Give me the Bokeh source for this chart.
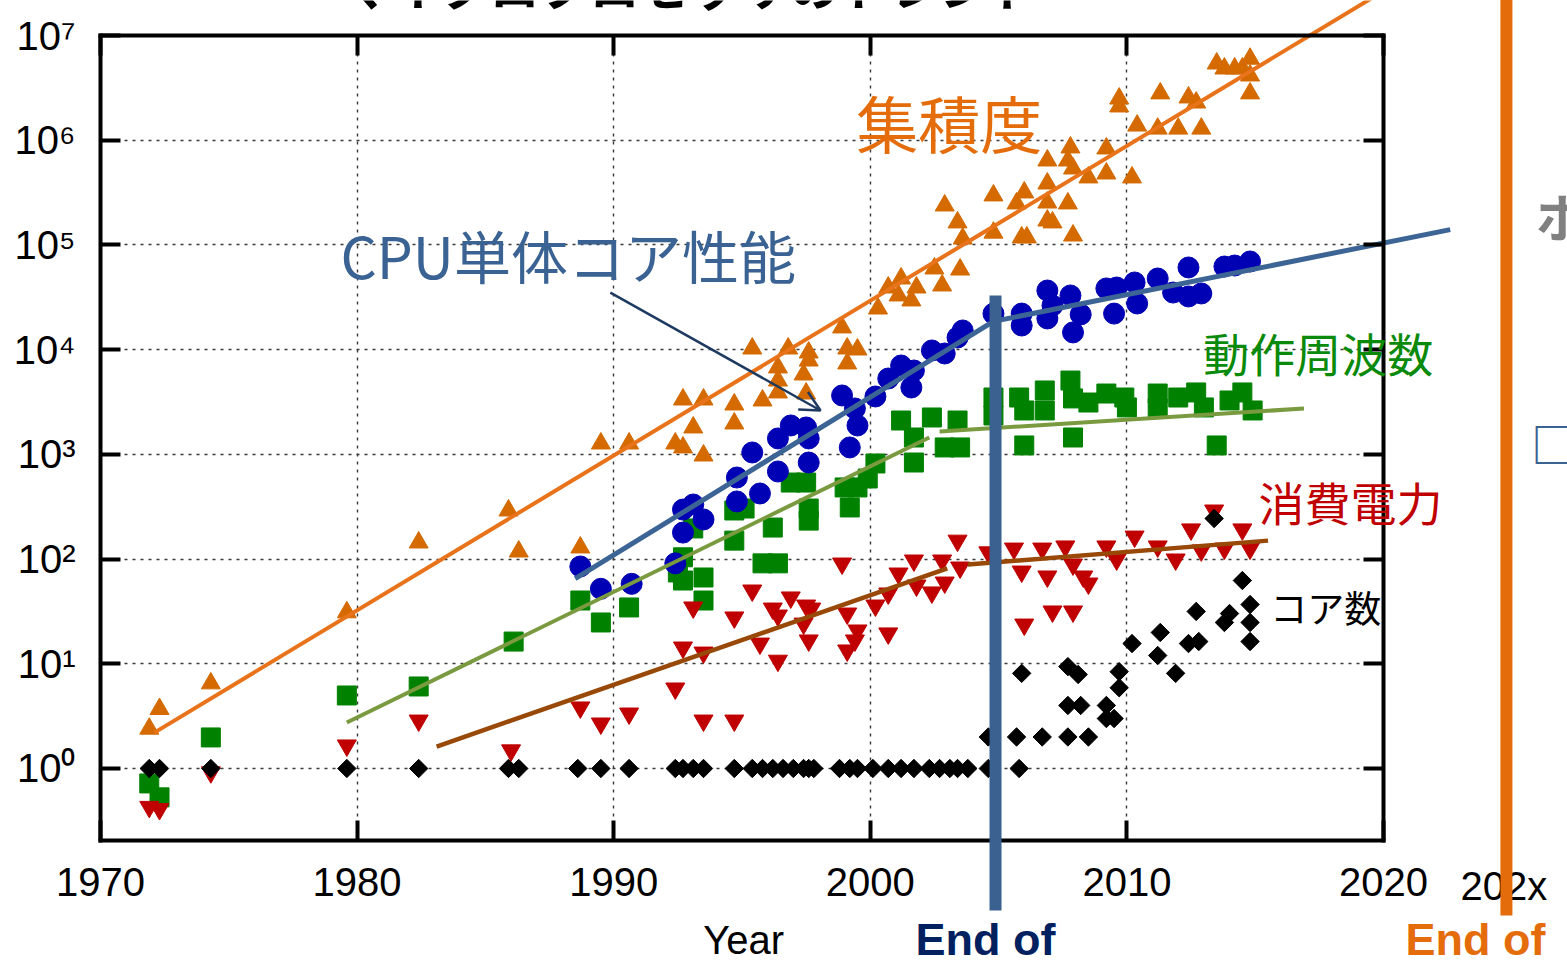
import numpy as np
from bokeh.plotting import figure
from bokeh.models import (FixedTicker, LinearAxis, LogAxis, Label, Arrow, OpenHead, Range1d, Grid)
from bokeh.embed import file_html
from bokeh.resources import INLINE

# ---------------- data ----------------
x_ticks = [1970, 1980, 1990, 2000, 2010, 2020]
y_ticks = [1, 10, 100, 1000, 10000, 100000, 1000000, 10000000]
y_tick_labels = ["10⁰", "10¹", "10²", "10³", "10⁴", "10⁵", "10⁶", "10⁷"]
x_lim = (1970, 2020)
y_lim = (0.2053, 1e7)

# transistors (thousands) - 集積度
tr_year = [1971.9, 1972.3, 1974.3, 1979.6, 1982.4, 1985.9, 1986.3, 1988.7, 1989.5, 1990.6,
           1992.4, 1992.7, 1992.7, 1993.1, 1993.5, 1993.5, 1994.7, 1994.7, 1995.4, 1995.8,
           1996.4, 1996.4, 1996.4, 1996.8, 1997.6, 1997.6, 1997.4, 1997.5, 1998.9, 1999.1,
           1999.5, 1999.1, 2000.3, 2000.7, 2001.1, 2001.2, 2001.6, 2001.8, 2002.5, 2002.8,
           2003.5, 2002.9, 2003.4, 2003.6, 2004.8, 2004.8, 2005.7, 2006.0, 2005.9, 2006.1,
           2006.9, 2006.9, 2006.9, 2007.1, 2007.7, 2007.9, 2006.9, 2007.8, 2007.7, 2007.9,
           2008.5, 2009.2, 2009.2, 2010.2, 2009.7, 2009.7, 2010.4, 2011.2, 2011.3, 2012.0,
           2012.4, 2012.7, 2012.9, 2013.5, 2013.8, 2014.2, 2014.5, 2014.8, 2014.8, 2014.8]
tr_val = [2.4, 3.7, 6.5, 31, 144, 291, 118, 129, 1270, 1270,
          1270, 1164, 3340, 1806, 3340, 975, 2994, 1972, 10250, 3270,
          6760, 5070, 3900, 10250, 9390, 7870, 5790, 3810, 16290, 10250,
          10030, 7380, 24700, 39200, 32900, 47800, 29500, 39200, 59600, 41000,
          58200, 238000, 164000, 115000, 297000, 131000, 249000, 317000, 118000, 118000,
          386000, 254000, 171000, 164000, 249000, 123000, 640000, 853000, 640000, 537000,
          441000, 834000, 481000, 441000, 2.5e6, 2.1e6, 1.38e6, 1.29e6, 2.8e6, 1.29e6,
          2.56e6, 2.29e6, 1.29e6, 5.4e6, 4.84e6, 4.84e6, 4.84e6, 6.0e6, 4.15e6, 2.8e6]

# single-thread performance - CPU単体コア性能
cpu_year = [1988.7, 1989.5, 1990.7, 1992.4, 1992.7, 1993.1, 1993.5, 1992.7, 1994.8, 1994.8,
            1995.4, 1995.7, 1996.4, 1996.4, 1996.9, 1997.5, 1997.6, 1997.6, 1998.9, 1999.4,
            1999.5, 1999.2, 2000.2, 2000.7, 2001.2, 2001.6, 2001.7, 2002.4, 2002.9, 2003.4,
            2003.6, 2004.8, 2005.9, 2005.9, 2006.9, 2006.9, 2007.1, 2007.8, 2008.2, 2007.9,
            2009.2, 2009.6, 2009.5, 2010.3, 2010.4, 2011.2, 2011.8, 2012.4, 2012.4, 2012.9,
            2013.8, 2014.2, 2014.8]
cpu_val = [85, 52, 58, 91, 297, 332, 239, 179, 601, 355,
           1042, 423, 1419, 686, 1888, 1806, 1419, 836, 3650, 2742,
           1888, 1164, 3570, 5300, 7060, 4350, 6320, 9820, 9190, 13060,
           15240, 22100, 22100, 17000, 36700, 19850, 26400, 32900, 21700, 14600,
           38400, 39200, 22100, 43800, 27600, 47800, 35100, 32200, 60900, 34400,
           62200, 63600, 69500]

# frequency (MHz) - 動作周波数
fq_year = [1971.9, 1972.3, 1974.3, 1979.6, 1982.4, 1986.1, 1988.7, 1989.5, 1990.6, 1992.5,
           1992.7, 1993.5, 1992.7, 1993.1, 1993.5, 1994.7, 1994.7, 1995.1, 1995.8, 1996.4,
           1996.2, 1996.9, 1997.5, 1997.6, 1997.6, 1999.0, 1999.5, 1999.2, 1999.9, 2000.2,
           2001.2, 2001.7, 2001.7, 2002.4, 2002.9, 2003.4, 2003.5, 2004.8, 2004.8, 2005.8,
           2006.0, 2006.0, 2006.8, 2006.8, 2007.8, 2007.9, 2007.9, 2008.5, 2009.2, 2009.9,
           2010.0, 2011.2, 2011.2, 2012.0, 2012.7, 2013.0, 2013.5, 2014.0, 2014.5, 2014.9]
fq_val = [0.72, 0.53, 1.98, 4.98, 6.07, 16.3, 40.2, 24.8, 34.5, 74.5,
          62.4, 66.7, 104, 196, 40.2, 291, 150, 304, 91, 91,
          200, 538, 538, 304, 233, 483, 483, 311, 588, 818,
          2105, 1449, 836, 2250, 1164, 2105, 1164, 3490, 2350, 3490,
          2624, 1216, 4074, 2624, 5070, 3420, 1449, 3126, 3810, 3490,
          2805, 3810, 2742, 3490, 3900, 2805, 1216, 3270, 3900, 2624]

# typical power (W) - 消費電力
pw_year = [1971.9, 1972.3, 1974.3, 1979.6, 1982.4, 1986.0, 1988.7, 1989.5, 1990.6, 1992.4,
           1992.7, 1993.5, 1993.5, 1994.7, 1993.1, 1994.7, 1995.4, 1995.7, 1996.2, 1996.4,
           1996.4, 1996.9, 1997.5, 1997.7, 1997.4, 1997.6, 1998.9, 1999.1, 1999.5, 1999.4,
           1999.1, 2000.2, 2000.7, 2000.7, 2001.1, 2001.7, 2001.8, 2002.4, 2002.8, 2002.9,
           2003.4, 2003.5, 2004.6, 2005.6, 2005.9, 2006.0, 2006.7, 2006.9, 2007.1, 2007.6,
           2007.9, 2007.9, 2008.3, 2008.5, 2009.2, 2009.6, 2010.3, 2011.2, 2011.9, 2012.5,
           2012.9, 2013.4, 2013.8, 2014.5, 2014.8]
pw_val = [0.43, 0.41, 0.92, 1.66, 2.87, 1.49, 3.83, 2.69, 3.35, 5.81,
          14.3, 12.8, 2.87, 2.87, 34.5, 27.7, 50.1, 15.6, 33.7, 28.9,
          10.7, 43, 36, 33.7, 24.2, 16.7, 90.7, 30.2, 20.8, 16.7,
          13.4, 36, 19.5, 46.9, 72.8, 96.9, 55.9, 48, 96.9, 59.7,
          150, 83.1, 116, 126, 76, 23.7, 126, 68.2, 31.6, 132,
          88.8, 31.6, 68.2, 58.4, 132, 99.1, 164, 132, 99.1, 192,
          121, 291, 126, 192, 126]

# number of logical cores - コア数
co_year = [1971.9, 1972.3, 1974.3, 1979.6, 1982.4, 1985.9, 1986.3, 1988.6, 1989.5, 1990.6,
           1992.4, 1992.7, 1993.1, 1993.5, 1994.7, 1995.4, 1995.8, 1996.2, 1996.6, 1997.0,
           1997.4, 1997.6, 1997.8, 1998.8, 1999.2, 1999.5, 2000.1, 2000.7, 2001.2, 2001.7,
           2002.3, 2002.7, 2003.1, 2003.4, 2003.8, 2004.6, 2005.8,
           2004.6, 2005.7, 2006.7, 2007.7, 2008.5,
           2007.7, 2008.2, 2009.2,
           2009.2, 2009.5,
           2005.9, 2007.7, 2008.1, 2009.7, 2009.7,
           2010.2, 2011.2, 2011.3, 2011.9, 2012.4, 2012.7, 2012.8, 2013.8, 2014.0, 2014.8,
           2014.8, 2014.8, 2014.5, 2013.4]
co_val = [1, 1, 1, 1, 1, 1, 1, 1, 1, 1,
          1, 1, 1, 1, 1, 1, 1, 1, 1, 1,
          1, 1, 1, 1, 1, 1, 1, 1, 1, 1,
          1, 1, 1, 1, 1, 1, 1,
          2, 2, 2, 2, 2,
          4, 4, 4,
          3, 3,
          8.1, 9.4, 7.9, 8.4, 5.9,
          15.6, 12, 19.9, 8.1, 15.6, 31.6, 16.3, 24.8, 30.2, 36.8,
          24.8, 16.3, 62.4, 244]

# trend lines
tr_fit_year = [1972.1, 2019.7]
tr_fit_val = [2.2, 2.4e7]
cpu_fit_year = [1988.5, 2004.8, 2022.6]
cpu_fit_val = [65, 18600, 140000]
fq_fit1_year = [1979.6, 2002.3]
fq_fit1_val = [2.75, 1449]
fq_fit2_year = [2002.7, 2016.9]
fq_fit2_val = [1653, 2742]
pw_fit1_year = [1983.1, 2003.0]
pw_fit1_val = [1.62, 81.3]
pw_fit2_year = [2003.8, 2015.5]
pw_fit2_val = [88.8, 150]

# marker lines of the slide ("End of ..." years)
end_year = [2004.88, 2024.79]

# ---------------- figure ----------------
TICK_FONT = "Liberation Sans"
JP_FONT = "Noto Sans CJK JP"

# the frame fills the whole canvas; the axes box is drawn with fixed-location axes
p = figure(width=1567, height=964,
           x_range=Range1d(1966.1029, 2027.1707), y_range=Range1d(0.013431, 2.1593e7),
           y_axis_type="log", output_backend="svg", toolbar_location=None,
           min_border=0, min_border_left=0, min_border_right=0, min_border_top=0, min_border_bottom=0)
p.title.visible = False
p.background_fill_color = "white"
p.border_fill_color = "white"
p.outline_line_color = None

bottom_ax = p.below[0]
left_ax = p.left[0]
top_ax = LinearAxis()
right_ax = LogAxis()
p.add_layout(top_ax, "above")
p.add_layout(right_ax, "right")

bottom_ax.fixed_location = y_lim[0]
top_ax.fixed_location = y_lim[1]
left_ax.fixed_location = x_lim[0]
right_ax.fixed_location = x_lim[1]
for ax in (bottom_ax, top_ax):
    ax.ticker = FixedTicker(ticks=x_ticks)
    ax.bounds = x_lim
for ax in (left_ax, right_ax):
    ax.ticker = FixedTicker(ticks=y_ticks)
    ax.bounds = y_lim
left_ax.major_label_overrides = {t: s for t, s in zip(y_ticks, y_tick_labels)}

for ax in [bottom_ax, left_ax, top_ax, right_ax]:
    ax.axis_line_width = 4
    ax.axis_line_color = "black"
    ax.axis_line_cap = "square"
    ax.major_tick_line_width = 4
    ax.major_tick_line_color = "black"
    ax.major_tick_in = 20
    ax.major_tick_out = 0
    ax.minor_tick_line_color = None
    ax.major_label_text_font = TICK_FONT
    ax.major_label_text_font_size = "40px"
    ax.major_label_text_color = "black"
for ax in [top_ax, right_ax]:
    ax.major_label_text_font_size = "2px"
    ax.major_label_text_color = None
    ax.major_label_standoff = 0
bottom_ax.major_label_standoff = 28
left_ax.major_label_standoff = 25

p.xgrid.ticker = FixedTicker(ticks=x_ticks)
p.ygrid.ticker = FixedTicker(ticks=y_ticks)
has_cross = "cross_bounds" in Grid.properties()
for g in (p.xgrid[0], p.ygrid[0]):
    g.grid_line_color = "#3a3a3a"
    g.grid_line_dash = "3 5"
    g.grid_line_width = 1.4
    g.minor_grid_line_color = None
if has_cross:
    p.xgrid[0].bounds = x_lim
    p.xgrid[0].cross_bounds = y_lim
    p.ygrid[0].bounds = y_lim
    p.ygrid[0].cross_bounds = x_lim
else:
    p.xgrid[0].visible = False
    p.ygrid[0].visible = False
    p.segment(x0=x_ticks, y0=[y_lim[0]] * len(x_ticks), x1=x_ticks, y1=[y_lim[1]] * len(x_ticks),
              line_color="#3a3a3a", line_dash="3 5", line_width=1.4, level="underlay")
    p.segment(x0=[x_lim[0]] * len(y_ticks), y0=y_ticks, x1=[x_lim[1]] * len(y_ticks), y1=y_ticks,
              line_color="#3a3a3a", line_dash="3 5", line_width=1.4, level="underlay")

# markers
p.scatter(tr_year, tr_val, marker="triangle", size=19, fill_color="#D46A00", line_color="#D46A00")
p.scatter(fq_year, fq_val, marker="square", size=19, fill_color="#008200", line_color="#008200")
p.scatter(cpu_year, cpu_val, marker="circle", size=21, fill_color="#0000B4", line_color="#0000B4")
p.scatter(pw_year, pw_val, marker="inverted_triangle", size=19, fill_color="#C00000", line_color="#C00000")
p.scatter(co_year, co_val, marker="square", angle=np.pi / 4, size=13, fill_color="black", line_color="black")

# trend lines
p.line(tr_fit_year, tr_fit_val, line_color="#E8731A", line_width=4)
p.line(cpu_fit_year, cpu_fit_val, line_color="#3C6595", line_width=5)
p.line(fq_fit1_year, fq_fit1_val, line_color="#7A9A40", line_width=4)
p.line(fq_fit2_year, fq_fit2_val, line_color="#7A9A40", line_width=4)
p.line(pw_fit1_year, pw_fit1_val, line_color="#984807", line_width=4.5)
p.line(pw_fit2_year, pw_fit2_val, line_color="#984807", line_width=4.5)

# callout arrow
p.add_layout(Arrow(x_start=1989.87, y_start=35100, x_end=1998.06, y_end=2624,
                   line_color="#1F3A60", line_width=2.5,
                   end=OpenHead(size=20, line_color="#1F3A60", line_width=2.5)))

# labels
def lab(x, y, text, color, size, font=JP_FONT, style="normal", align="left", baseline="middle"):
    p.add_layout(Label(x=x, y=y, text=text, text_color=color, text_font=font,
                       text_font_size=size, text_font_style=style,
                       text_align=align, text_baseline=baseline))

lab(1979.35, 3.1e7, "マイクロプロセッサのトレンド", "black", "50px", style="bold")
lab(1999.45, 1.48e6, "集積度", "#E46C0A", "62px")
lab(1979.35, 82800, "CPU単体コア性能", "#3A6394", "57px")
lab(2012.98, 9400, "動作周波数", "#0A8A0A", "46px")
lab(2015.13, 362, "消費電力", "#C00000", "46px")
lab(2015.59, 34.5, "コア数", "black", "37px")
lab(1995.06, 0.0228, "Year", "black", "40px", font=TICK_FONT, align="center")
lab(2023.0, 0.0763, "202x", "black", "40px", font=TICK_FONT)
lab(2001.76, 0.0235, "End of", "#002060", "45px", font=TICK_FONT, style="bold")
lab(2020.86, 0.0235, "End of", "#E46C0A", "45px", font=TICK_FONT, style="bold")
lab(2025.92, 191000, "ホ", "#808080", "52px", style="bold")
lab(2025.75, 1300, "□", "#3A6394", "46px", style="bold")

# vertical bars (drawn over the axes)
p.segment(x0=[end_year[0]], y0=[32900], x1=[end_year[0]], y1=[0.044],
          line_color="#3A6190", line_width=12, level="overlay")
p.segment(x0=[end_year[1]], y0=[1e9], x1=[end_year[1]], y1=[0.0395],
          line_color="#E46C0A", line_width=12, level="overlay")

open("out.html", "w").write(file_html(p, INLINE))
